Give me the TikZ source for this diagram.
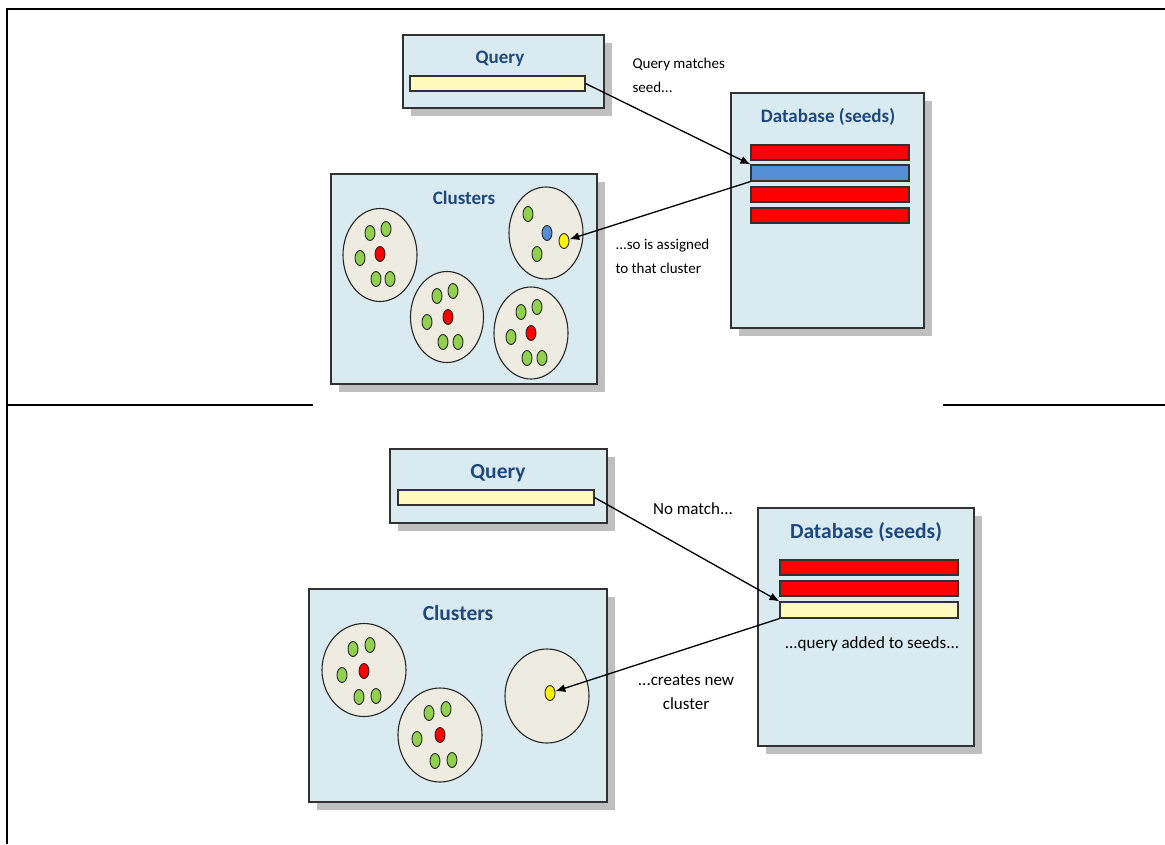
\documentclass[tikz,border=0pt]{standalone}
\usepackage{fontspec}
\setmainfont{Carlito}
\usetikzlibrary{shapes.geometric,shadows,arrows.meta}
\definecolor{panelblue}{RGB}{218,234,241}
\definecolor{titleblue}{RGB}{31,73,125}
\definecolor{beige}{RGB}{238,236,225}
\definecolor{dotgreen}{RGB}{146,208,80}
\definecolor{dotblue}{RGB}{85,142,213}
\definecolor{paleyellow}{RGB}{255,249,189}
\definecolor{edgegray}{RGB}{50,50,50}
\tikzset{
  panel/.style={draw=edgegray, line width=1.4pt, fill=panelblue,
    drop shadow={shadow xshift=8pt, shadow yshift=-8pt, fill=black!25, opacity=1}},
  title/.style={font=\fontsize{19}{22}\selectfont\bfseries, text=titleblue},
  bigtitle/.style={title, font=\fontsize{21.5}{24}\selectfont\bfseries},
  note/.style={font=\fontsize{15}{24}\selectfont, align=left},
  bignote/.style={note, font=\fontsize{17}{24}\selectfont},
  bar/.style={draw=edgegray, line width=1.1pt, inner sep=0pt},
  blob/.style={ellipse, draw=black!85, line width=1.1pt, fill=beige, inner sep=0pt},
  pt/.style={ellipse, draw=black!85, line width=0.9pt, inner sep=0pt, minimum width=10pt, minimum height=15pt},
  link/.style={-{Latex[length=10pt,width=8pt]}, line width=1.3pt},
}
\begin{document}
\begin{tikzpicture}[x=1pt, y=-1pt]
  \useasboundingbox (0,0) rectangle (1165,844);
  % frame and divider
  \draw[line width=2.4pt] (7,844) -- (7,9) -- (1165,9);
  \draw[line width=2.4pt] (7,405) -- (313,405);
  \draw[line width=2.4pt] (943,405) -- (1165,405);

  % ---- top: query matches a seed
  \node[panel, minimum width=201pt, minimum height=73pt] (tq) at (503.5,71.5) {};
  \node[title] (tqt) at (500,59) {Query};
  \node[bar, fill=paleyellow, minimum width=175pt, minimum height=15pt] (tqbar) at (497.5,83.5) {};

  \node[panel, minimum width=193pt, minimum height=235pt] (tdb) at (827.5,210.5) {};
  \node[title] (tdbt) at (828,117) {Database (seeds)};
  \node[bar, fill=red, minimum width=158pt, minimum height=15pt] (tdb1) at (830,152.5) {};
  \node[bar, fill=dotblue, minimum width=158pt, minimum height=16pt] (tdb2) at (830,173) {};
  \node[bar, fill=red, minimum width=158pt, minimum height=15pt] (tdb3) at (830,194.5) {};
  \node[bar, fill=red, minimum width=158pt, minimum height=15pt] (tdb4) at (830,215.5) {};

  \node[panel, minimum width=266pt, minimum height=210pt] (tcl) at (464,279) {};
  \node[title] (tclt) at (464,198) {Clusters};
  \node[blob, minimum width=74pt, minimum height=93pt] (tc1) at (380,255) {};
  \node[blob, minimum width=73pt, minimum height=91pt] (tc2) at (447,317) {};
  \node[blob, minimum width=74pt, minimum height=92pt] (tc3) at (531,333) {};
  \node[blob, minimum width=74pt, minimum height=92pt] (tc4) at (546,233) {};
  \foreach \x/\y [count=\i] in {370/233,386/229,360/258,376/279,390/279} \node[pt, fill=dotgreen] (tga\i) at (\x,\y) {};
  \foreach \x/\y [count=\i] in {437/296,453/291,427/322,443/342,458/342} \node[pt, fill=dotgreen] (tgb\i) at (\x,\y) {};
  \foreach \x/\y [count=\i] in {521/312,537/307,511/337,527/358,542/358} \node[pt, fill=dotgreen] (tgc\i) at (\x,\y) {};
  \node[pt, fill=red] (tra) at (380,254) {};
  \node[pt, fill=red] (trb) at (448,317) {};
  \node[pt, fill=red] (trc) at (531,333) {};
  \node[pt, fill=dotgreen] (tgd1) at (528,214) {};
  \node[pt, fill=dotgreen] (tgd2) at (537,254) {};
  \node[pt, fill=dotblue] (tbd) at (547,233) {};
  \node[pt, fill=yellow] (tyd) at (564,241) {};

  \node[note, anchor=west] (tn1) at (629,75) {Query matches\\seed...};
  \node[note, anchor=west] (tn2) at (612,256) {...so is assigned\\to that cluster};
  \draw[link] (tqbar.east) -- (tdb2.north west);
  \draw[link] (tdb2.south west) -- (tyd);

  % ---- bottom: no match, new cluster
  \node[panel, minimum width=217pt, minimum height=74pt] (bq) at (498.5,486) {};
  \node[bigtitle] (bqt) at (498,473) {Query};
  \node[bar, fill=paleyellow, minimum width=196pt, minimum height=15pt] (bqbar) at (496,497.5) {};

  \node[panel, minimum width=216pt, minimum height=238pt] (bdb) at (866,627) {};
  \node[bigtitle] (bdbt) at (866,532) {Database (seeds)};
  \node[bar, fill=red, minimum width=178pt, minimum height=15pt] (bdb1) at (869,567.5) {};
  \node[bar, fill=red, minimum width=178pt, minimum height=15pt] (bdb2) at (869,588.5) {};
  \node[bar, fill=paleyellow, minimum width=178pt, minimum height=16pt] (bdb3) at (869,610) {};
  \node[bignote] (bn3) at (872,644) {...query added to seeds...};

  \node[panel, minimum width=298pt, minimum height=213pt] (bcl) at (458,695.5) {};
  \node[bigtitle] (bclt) at (458,613) {Clusters};
  \node[blob, minimum width=84pt, minimum height=93pt] (bc1) at (364,670) {};
  \node[blob, minimum width=84pt, minimum height=94pt] (bc2) at (440,735) {};
  \node[blob, minimum width=84pt, minimum height=94pt] (bc3) at (547,696) {};
  \foreach \x/\y [count=\i] in {353/649,370/645,342/675,359/697,376/696} \node[pt, fill=dotgreen] (bga\i) at (\x,\y) {};
  \foreach \x/\y [count=\i] in {429/713,446/709,417/739,435/761,452/760} \node[pt, fill=dotgreen] (bgb\i) at (\x,\y) {};
  \node[pt, fill=red] (bra) at (364,671) {};
  \node[pt, fill=red] (brb) at (440,735) {};
  \node[pt, fill=yellow] (byc) at (550,693) {};

  \node[bignote] (bn1) at (693,509) {No match...};
  \node[bignote, align=center] (bn2) at (686,692) {...creates new\\cluster};
  \draw[link] (bqbar.east) -- (bdb3.north west);
  \draw[link] (bdb3.south west) -- (byc);
\end{tikzpicture}
\end{document}
